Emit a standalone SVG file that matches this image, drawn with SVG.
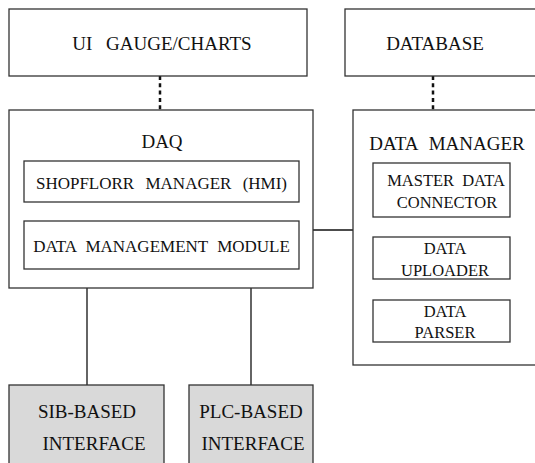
<svg xmlns="http://www.w3.org/2000/svg" width="535" height="463" viewBox="0 0 535 463">
<defs>
<rect id="bg" width="535" height="463" fill="#fff"/>
</defs>
<use href="#bg"/>
<g id="connectors" stroke="#111" stroke-width="1.3" fill="none">
<line stroke-width="2.5" stroke-dasharray="4 3.3" x1="160" y1="76" x2="160" y2="110"/>
<line stroke-width="2.5" stroke-dasharray="4 3.3" x1="433" y1="76" x2="433" y2="110"/>
<line x1="313" y1="230" x2="353" y2="230"/>
<line x1="87" y1="288" x2="87" y2="385"/>
<line x1="251" y1="288" x2="251" y2="385"/>
</g>
<g stroke="#333" stroke-width="1.3" fill="#fff">
<g id="ui">
<rect x="9" y="9" width="298" height="67"/>
<text stroke="none" font-family="Liberation Serif" font-size="19" fill="#111" text-anchor="middle" x="162" y="50" word-spacing="9">UI GAUGE/CHARTS</text>
</g>
<g id="database">
<rect x="345" y="9" width="200" height="67"/>
<text stroke="none" font-family="Liberation Serif" font-size="19" fill="#111" text-anchor="middle" x="435" y="50">DATABASE</text>
</g>
<g id="daq">
<rect x="9" y="110" width="304" height="178"/>
<text stroke="none" font-family="Liberation Serif" font-size="19" fill="#111" text-anchor="middle" x="162" y="148">DAQ</text>
</g>
<g id="shopfloor">
<rect x="24" y="161" width="275" height="41"/>
<text stroke="none" font-family="Liberation Serif" font-size="17" fill="#111" text-anchor="middle" x="161.5" y="189" word-spacing="7">SHOPFLORR MANAGER (HMI)</text>
</g>
<g id="dmm">
<rect x="24" y="221" width="275" height="48"/>
<text stroke="none" font-family="Liberation Serif" font-size="17" fill="#111" text-anchor="middle" x="161.5" y="252" word-spacing="5">DATA MANAGEMENT MODULE</text>
</g>
<g id="datamanager">
<rect x="353" y="110" width="200" height="255"/>
<text stroke="none" font-family="Liberation Serif" font-size="19" fill="#111" text-anchor="middle" x="447" y="150" word-spacing="6.5">DATA MANAGER</text>
</g>
<g id="mdc">
<rect x="373" y="163" width="137" height="54"/>
<text stroke="none" font-family="Liberation Serif" font-size="16.5" fill="#111" text-anchor="middle" x="446" y="186" word-spacing="4">MASTER DATA</text>
<text stroke="none" font-family="Liberation Serif" font-size="16.5" fill="#111" text-anchor="middle" x="447" y="208">CONNECTOR</text>
</g>
<g id="uploader">
<rect x="373" y="237" width="137" height="42"/>
<text stroke="none" font-family="Liberation Serif" font-size="16.5" fill="#111" text-anchor="middle" x="445" y="254">DATA</text>
<text stroke="none" font-family="Liberation Serif" font-size="16.5" fill="#111" text-anchor="middle" x="445" y="276">UPLOADER</text>
</g>
<g id="parser">
<rect x="373" y="300" width="137" height="42"/>
<text stroke="none" font-family="Liberation Serif" font-size="16.5" fill="#111" text-anchor="middle" x="445" y="317">DATA</text>
<text stroke="none" font-family="Liberation Serif" font-size="16.5" fill="#111" text-anchor="middle" x="445" y="338">PARSER</text>
</g>
<g id="sib">
<rect fill="#d9d9d9" x="9" y="385" width="155" height="90"/>
<text stroke="none" font-family="Liberation Serif" font-size="19" fill="#111" text-anchor="middle" x="87" y="418">SIB-BASED</text>
<text stroke="none" font-family="Liberation Serif" font-size="19" fill="#111" text-anchor="middle" x="94" y="450">INTERFACE</text>
</g>
<g id="plc">
<rect fill="#d9d9d9" x="189" y="385" width="124" height="90"/>
<text stroke="none" font-family="Liberation Serif" font-size="19" fill="#111" text-anchor="middle" x="251" y="418">PLC-BASED</text>
<text stroke="none" font-family="Liberation Serif" font-size="19" fill="#111" text-anchor="middle" x="253" y="450">INTERFACE</text>
</g>
</g>
</svg>
